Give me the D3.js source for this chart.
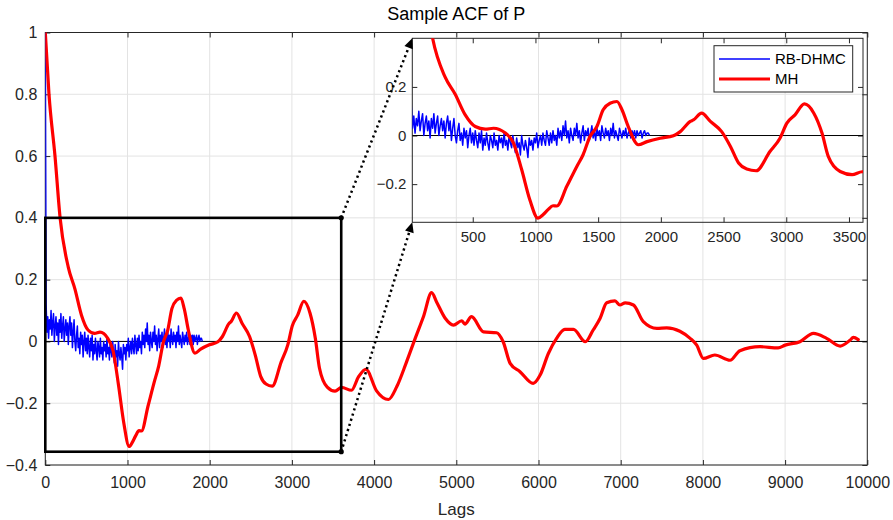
<!DOCTYPE html>
<html>
<head>
<meta charset="utf-8">
<script src="https://cdn.jsdelivr.net/npm/d3@7"></script>
<style>
  body { margin: 0; background: #fff; }
  svg { display: block; font-family: "Liberation Sans", Arial, Helvetica, sans-serif; }
</style>
</head>
<body>
<script>
// GLOBAL VARIABLES
const WIDTH = 893;
const HEIGHT = 520;
const AXIS_COLOR = "#262626";
const GRID_COLOR = "#e3e3e3";

// DATA
const xTicks = [0, 1000, 2000, 3000, 4000, 5000, 6000, 7000, 8000, 9000, 10000];
const yTicks = [-0.4, -0.2, 0, 0.2, 0.4, 0.6, 0.8, 1];
const insetXTicks = [500, 1000, 1500, 2000, 2500, 3000, 3500];
const insetYTicks = [-0.2, 0, 0.2];
const seriesNames = ["RB-DHMC", "MH"];
const zoomLags = [0, 3600];
const zoomAcf = [-0.357, 0.4];

// MH chain, lag / acf
const mhLags = [0, 45, 118, 180, 280, 360, 440, 520, 600, 665, 760, 825, 890, 955, 1020, 1060, 1100, 1140, 1170,
  1250, 1330, 1380, 1435, 1490, 1540, 1595, 1650, 1690, 1740, 1820, 1890, 1995, 2100, 2155, 2235, 2260, 2325,
  2395, 2485, 2555, 2620, 2685, 2760, 2870, 2950, 3005, 3070, 3145, 3220, 3285, 3335, 3430, 3525, 3605, 3725,
  3810, 3900, 4030, 4175, 4275, 4395, 4500, 4600, 4700, 4760, 4865, 4965, 5065, 5105, 5185, 5330, 5490, 5570,
  5655, 5775, 5935, 6020, 6120, 6220, 6320, 6425, 6570, 6665, 6750, 6830, 6930, 6990, 7055, 7155, 7275, 7440,
  7560, 7720, 7845, 7925, 8005, 8145, 8330, 8450, 8695, 8915, 9000, 9180, 9345, 9505, 9670, 9790, 9830, 9890];
const mhAcf = [1.0, 0.8, 0.6, 0.4, 0.24, 0.17, 0.085, 0.037, 0.026, 0.03, 0.01, -0.031, -0.14, -0.264, -0.34,
  -0.326, -0.305, -0.289, -0.29, -0.209, -0.127, -0.079, -0.004, 0.037, 0.106, 0.133, 0.14, 0.106, 0.037,
  -0.038, -0.025, -0.011, -0.001, 0.016, 0.058, 0.064, 0.092, 0.058, 0.016, -0.045, -0.113, -0.138, -0.145,
  -0.066, -0.011, 0.051, 0.085, 0.13, 0.092, 0.01, -0.086, -0.148, -0.161, -0.149, -0.158, -0.115, -0.09,
  -0.16, -0.188, -0.147, -0.066, 0.01, 0.08, 0.158, 0.128, 0.075, 0.053, 0.067, 0.056, 0.08, 0.031, 0.028,
  -0.001, -0.071, -0.098, -0.136, -0.109, -0.039, 0.01, 0.039, 0.039, -0.001, 0.037, 0.075, 0.125, 0.131,
  0.118, 0.125, 0.118, 0.064, 0.042, 0.044, 0.033, 0.01, -0.012, -0.055, -0.044, -0.061, -0.03, -0.017,
  -0.021, -0.012, -0.001, 0.026, 0.01, -0.015, 0.004, 0.013, 0.006];

// RB-DHMC chain, one value every 10 lags from lag 0
const DHMC_STEP = 10;
const dhmcAcf = [
  1.0, 0.12, 0.03, 0.08, 0.01, 0.07, 0.04, 0.10, 0.02, 0.06,
  0.09, 0.00, 0.05, 0.08, 0.02, 0.06, -0.01, 0.07, 0.03, 0.09,
  0.01, 0.05, 0.08, 0.00, 0.04, 0.07, 0.02, 0.06, -0.01, 0.05,
  0.08, 0.02, 0.06, -0.02, 0.03, 0.07, 0.00, -0.03, 0.02, 0.05,
  -0.02, 0.01, -0.04, 0.03, -0.01, 0.02, -0.05, 0.00, 0.03, -0.03,
  0.01, -0.04, 0.02, -0.02, -0.05, 0.01, -0.03, 0.02, -0.06, -0.01,
  -0.04, 0.01, -0.03, -0.06, 0.00, -0.02, -0.05, 0.01, -0.04, -0.02,
  -0.06, 0.00, -0.03, -0.01, -0.05, 0.01, -0.04, -0.02, -0.06, 0.00,
  -0.03, -0.05, 0.00, -0.04, -0.07, -0.01, -0.05, -0.03, -0.08, 0.00,
  -0.04, -0.06, -0.02, -0.05, -0.09, -0.01, -0.04, -0.02, -0.06, -0.01,
  -0.03, 0.01, -0.05, -0.02, 0.00, -0.04, 0.01, -0.02, -0.04, 0.02,
  -0.01, -0.04, 0.01, -0.03, 0.02, -0.02, 0.00, -0.04, 0.03, -0.01,
  0.02, -0.02, 0.04, 0.00, 0.06, -0.01, 0.02, -0.03, 0.03, 0.00,
  -0.02, 0.03, 0.00, 0.05, -0.01, 0.02, -0.03, 0.01, 0.04, -0.02,
  0.02, 0.00, 0.03, -0.02, 0.01, 0.04, -0.01, 0.02, -0.02, 0.03,
  0.00, 0.02, -0.02, 0.04, 0.01, -0.01, 0.03, 0.00, 0.02, -0.02,
  0.03, 0.00, 0.05, -0.01, 0.02, 0.00, -0.02, 0.03, 0.01, -0.01,
  0.02, 0.00, 0.03, -0.01, 0.01, 0.02, -0.01, 0.02, 0.00, 0.02,
  -0.01, 0.02, 0.00, 0.01, 0.02, -0.01, 0.01, 0.02, 0.00, 0.01,
  0.01, 0.00];

const mhData = mhLags.map((lag, i) => ({ lag, acf: mhAcf[i] }));
const dhmcData = dhmcAcf.map((acf, i) => ({ lag: i * DHMC_STEP, acf }));

const svg = d3.select("body").append("svg").attr("width", WIDTH).attr("height", HEIGHT);
svg.append("rect").attr("width", WIDTH).attr("height", HEIGHT).attr("fill", "#fff");
const defs = svg.append("defs");

// SCALES
const x = d3.scaleLinear().domain([0, 10000]).range([45.3, 867.3]);
const y = d3.scaleLinear().domain([-0.4, 1]).range([465, 32.5]);
const ix = d3.scaleLinear().domain([18, 3612]).range([412.3, 863]);
const iy = d3.scaleLinear().domain(zoomAcf).range([222.3, 38.3]);

const clip = (id, sx, sy) => {
  defs.append("clipPath").attr("id", id).append("rect")
    .attr("x", sx.range()[0]).attr("y", sy.range()[1])
    .attr("width", sx.range()[1] - sx.range()[0])
    .attr("height", sy.range()[0] - sy.range()[1]);
};
clip("mainClip", x, y);
clip("insetClip", ix, iy);

// AXES DRAWER (box with inward ticks on all sides)
const axesDrawer = (g, sx, sy, xt, yt, opts) => {
  const [x0, x1] = sx.range();
  const [y0, y1] = sy.range();
  if (opts.grid) {
    g.append("g").selectAll("line").data(xt).enter().append("line")
      .attr("x1", d => sx(d)).attr("x2", d => sx(d)).attr("y1", y1).attr("y2", y0)
      .attr("stroke", GRID_COLOR).attr("stroke-width", 1);
    g.append("g").selectAll("line").data(yt).enter().append("line")
      .attr("x1", x0).attr("x2", x1).attr("y1", d => sy(d)).attr("y2", d => sy(d))
      .attr("stroke", GRID_COLOR).attr("stroke-width", 1);
  }
  const style = sel => {
    sel.select(".domain").remove();
    sel.selectAll("line").attr("stroke", AXIS_COLOR);
    sel.selectAll("text").attr("fill", AXIS_COLOR).style("font-size", opts.fontSize + "px")
      .attr("font-family", null);
  };
  g.append("g").attr("transform", `translate(0,${y0})`)
    .call(d3.axisBottom(sx).tickValues(xt).tickSize(-5).tickPadding(opts.xPad).tickFormat(d3.format("d")))
    .call(style);
  g.append("g").attr("transform", `translate(0,${y1})`)
    .call(d3.axisTop(sx).tickValues(xt).tickSize(-5).tickFormat(""))
    .call(style);
  g.append("g").attr("transform", `translate(${x0},0)`)
    .call(d3.axisLeft(sy).tickValues(yt).tickSize(-5).tickPadding(opts.yPad).tickFormat(d => d3.format("")(+d.toFixed(1))))
    .call(style);
  g.append("g").attr("transform", `translate(${x1},0)`)
    .call(d3.axisRight(sy).tickValues(yt).tickSize(-5).tickFormat(""))
    .call(style);
  g.append("rect").attr("x", x0).attr("y", y1).attr("width", x1 - x0).attr("height", y0 - y1)
    .attr("fill", "none").attr("stroke", AXIS_COLOR).attr("stroke-width", 1);
};

const linesDrawer = (g, sx, sy, clipId) => {
  const gl = g.append("g").attr("clip-path", `url(#${clipId})`);
  gl.append("line").attr("x1", sx.range()[0]).attr("x2", sx.range()[1])
    .attr("y1", sy(0)).attr("y2", sy(0)).attr("stroke", "#000").attr("stroke-width", 1);
  const line = d3.line().x(d => sx(d.lag)).y(d => sy(d.acf));
  gl.append("path").datum(dhmcData).attr("d", line)
    .attr("fill", "none").attr("stroke", "#0000ff").attr("stroke-width", 1.5).attr("stroke-linejoin", "round");
  gl.append("path").datum(mhData).attr("d", line.curve(d3.curveMonotoneX))
    .attr("fill", "none").attr("stroke", "#ff0000").attr("stroke-width", 3.2)
    .attr("stroke-linejoin", "round").attr("stroke-linecap", "round");
};

// MAIN AXES
const mainG = svg.append("g");
axesDrawer(mainG, x, y, xTicks, yTicks, { grid: true, fontSize: 16, xPad: 12, yPad: 8 });
linesDrawer(mainG, x, y, "mainClip");

// zoom rectangle
mainG.append("rect")
  .attr("x", x(zoomLags[0])).attr("y", y(zoomAcf[1]))
  .attr("width", x(zoomLags[1]) - x(zoomLags[0]))
  .attr("height", y(zoomAcf[0]) - y(zoomAcf[1]))
  .attr("fill", "none").attr("stroke", "#000").attr("stroke-width", 2.6);

svg.append("text").attr("x", (x.range()[0] + x.range()[1]) / 2).attr("y", 20)
  .attr("text-anchor", "middle").attr("fill", "#000").style("font-size", "18px").text("Sample ACF of P");
svg.append("text").attr("x", (x.range()[0] + x.range()[1]) / 2).attr("y", 515)
  .attr("text-anchor", "middle").attr("fill", AXIS_COLOR).style("font-size", "17px").text("Lags");

// INSET AXES (transparent, main grid shows through)
const insetG = svg.append("g");
axesDrawer(insetG, ix, iy, insetXTicks, insetYTicks, { grid: false, fontSize: 15, xPad: 9, yPad: 6 });
linesDrawer(insetG, ix, iy, "insetClip");

// LEGEND
const legG = svg.append("g");
legG.append("rect").attr("x", 714).attr("y", 45.7).attr("width", 138.7).attr("height", 46.3)
  .attr("fill", "#fff").attr("stroke", AXIS_COLOR).attr("stroke-width", 1);
const legItems = legG.selectAll("g").data(seriesNames).enter().append("g")
  .attr("transform", (d, i) => `translate(719,${59 + i * 20})`);
legItems.append("line").attr("x1", 0).attr("x2", 51).attr("y1", 0).attr("y2", 0)
  .attr("stroke", (d, i) => i === 0 ? "#0000ff" : "#ff0000")
  .attr("stroke-width", (d, i) => i === 0 ? 1.3 : 3.2);
legItems.append("text").attr("x", 56).attr("y", 0).attr("dy", "0.35em")
  .attr("fill", "#000").style("font-size", "15px").text(d => d);

// DOTTED ARROWS from zoom rectangle to inset corners
const arrows = [
  [[x(zoomLags[1]), y(zoomAcf[1])], [ix.range()[0], iy.range()[1]]],
  [[x(zoomLags[1]), y(zoomAcf[0])], [ix.range()[0], iy.range()[0]]]
];
arrows.forEach(([s, e]) => {
  const ang = Math.atan2(e[1] - s[1], e[0] - s[0]);
  const headLen = 10, headW = 4.5;
  const bx = e[0] - headLen * Math.cos(ang), by = e[1] - headLen * Math.sin(ang);
  svg.append("line").attr("x1", s[0]).attr("y1", s[1]).attr("x2", bx).attr("y2", by)
    .attr("stroke", "#000").attr("stroke-width", 2.5)
    .attr("stroke-dasharray", "2.2,3.2");
  svg.append("circle").attr("cx", s[0]).attr("cy", s[1]).attr("r", 2.6).attr("fill", "#000");
  const px = -Math.sin(ang), py = Math.cos(ang);
  svg.append("path")
    .attr("d", `M${e[0]},${e[1]}L${bx + headW * px},${by + headW * py}L${bx - headW * px},${by - headW * py}Z`)
    .attr("fill", "#000");
});
</script>
</body>
</html>
